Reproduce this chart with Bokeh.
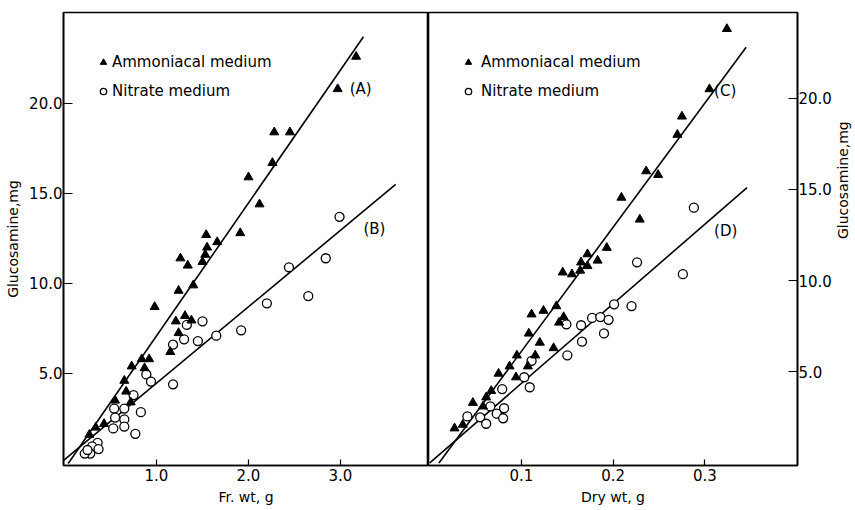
import math
from bokeh.plotting import figure
from bokeh.layouts import row
from bokeh.models import (Range1d, FixedTicker, NumeralTickFormatter, Legend,
                          LegendItem, Label)
from bokeh.embed import file_html
from bokeh.resources import INLINE

FONT = "DejaVu Sans"

# ---------------- Left panel: fresh weight ----------------
fr_amm_x = [3.17, 2.97, 2.28, 2.45, 2.26, 2.00, 2.12, 1.91, 1.54, 1.55, 1.66, 1.53,
            1.26, 1.34, 1.50, 1.40, 1.24, 0.98, 1.21, 1.31, 1.38, 1.24, 1.15, 0.84,
            0.92, 0.87, 0.73, 0.65, 0.67, 0.72, 0.55, 0.43, 0.34, 0.27]
fr_amm_y = [22.6, 20.8, 18.4, 18.4, 16.7, 15.9, 14.4, 12.8, 12.7, 12.0, 12.3, 11.6,
            11.4, 11.0, 11.2, 9.9, 9.6, 8.7, 7.9, 8.2, 7.95, 7.25, 6.2, 5.8,
            5.8, 5.3, 5.4, 4.6, 4.0, 3.4, 3.5, 2.2, 2.0, 1.6]

fr_nit_x = [2.99, 2.84, 2.44, 2.65, 2.20, 1.92, 1.65, 1.50, 1.33, 1.30, 1.45, 1.18,
            0.89, 0.94, 1.18, 0.75, 0.54, 0.65, 0.83, 0.55, 0.65, 0.53, 0.65, 0.77,
            0.36, 0.30, 0.37, 0.28, 0.22, 0.25]
fr_nit_y = [13.7, 11.4, 10.9, 9.3, 8.9, 7.4, 7.1, 7.9, 7.7, 6.9, 6.8, 6.6,
            4.95, 4.55, 4.4, 3.8, 3.05, 3.05, 2.85, 2.55, 2.45, 1.95, 2.05, 1.65,
            1.15, 0.95, 0.8, 0.55, 0.55, 0.75]

line_a_x = [0.04, 3.25]
line_a_y = [0.0, 23.7]
line_b_x = [-0.01, 3.60]
line_b_y = [0.17, 15.5]

# ---------------- Right panel: dry weight ----------------
dry_amm_x = [0.324, 0.305, 0.275, 0.270, 0.236, 0.249, 0.209, 0.229, 0.193, 0.172,
             0.165, 0.172, 0.183, 0.145, 0.155, 0.164, 0.138, 0.124, 0.111, 0.146,
             0.141, 0.108, 0.120, 0.135, 0.095, 0.115, 0.087, 0.107, 0.075, 0.094,
             0.067, 0.0615, 0.047, 0.058, 0.036, 0.027]
dry_amm_y = [23.8, 20.5, 19.0, 18.0, 16.0, 15.8, 14.55, 13.35, 11.8, 11.45,
             11.0, 10.8, 11.1, 10.45, 10.35, 10.55, 8.6, 8.35, 8.15, 8.0,
             7.7, 7.1, 6.6, 6.3, 5.9, 5.9, 5.3, 5.3, 4.9, 4.7,
             3.95, 3.6, 3.3, 3.1, 2.1, 1.9]

dry_nit_x = [0.288, 0.226, 0.276, 0.201, 0.220, 0.177, 0.186, 0.195, 0.190, 0.149,
             0.165, 0.166, 0.150, 0.111, 0.103, 0.109, 0.079, 0.066, 0.081, 0.073,
             0.080, 0.055, 0.0615, 0.041]
dry_nit_y = [14.0, 11.0, 10.35, 8.7, 8.6, 7.95, 8.0, 7.85, 7.1, 7.6,
             7.55, 6.65, 5.9, 5.6, 4.7, 4.15, 4.05, 3.1, 3.0, 2.7,
             2.45, 2.5, 2.15, 2.55]

line_c_x = [0.010, 0.345]
line_c_y = [0.0, 22.8]
line_d_x = [0.0, 0.346]
line_d_y = [0.0, 15.1]

y_ticks = [5, 10, 15, 20]
fr_ticks = [1, 2, 3]
dry_ticks = [0.1, 0.2, 0.3]

legend_labels = ["Ammoniacal medium", "Nitrate medium"]


def style(p, xticks):
    p.outline_line_color = "black"
    p.outline_line_width = 1.6
    p.xgrid.visible = False
    p.ygrid.visible = False
    p.background_fill_color = "white"
    p.border_fill_color = "white"
    for ax in list(p.xaxis) + list(p.yaxis):
        ax.formatter = NumeralTickFormatter(format="0.0")
        ax.major_tick_out = 0
        ax.minor_tick_line_color = None
        ax.axis_line_width = 1.6
        ax.axis_line_color = "black"
        ax.major_tick_line_color = "black"
        ax.major_tick_line_width = 1.2
        ax.major_label_text_font = FONT
        ax.major_label_text_font_size = "15px"
        ax.major_label_text_color = "black"
        ax.axis_label_text_font = FONT
        ax.axis_label_text_font_size = "14px"
        ax.axis_label_text_font_style = "normal"
        ax.axis_label_text_color = "black"
    for ax in p.xaxis:
        ax.ticker = FixedTicker(ticks=xticks)
        ax.major_tick_in = 6
        ax.major_label_standoff = 3
        ax.axis_label_standoff = 5
    for ax in p.yaxis:
        ax.ticker = FixedTicker(ticks=y_ticks)
        ax.major_tick_in = 9
        ax.major_label_standoff = 1
        ax.axis_label_standoff = 5


def add_legend(p, tri, circ, x, standoff):
    leg = Legend(items=[LegendItem(label=legend_labels[0], renderers=[tri]),
                        LegendItem(label=legend_labels[1], renderers=[circ])],
                 location=(x, 365), border_line_color=None,
                 background_fill_alpha=0, label_text_font=FONT,
                 label_text_font_size="15px", label_text_color="black",
                 glyph_width=16, glyph_height=16,
                 label_height=16, label_standoff=standoff, spacing=11,
                 padding=0, margin=0)
    p.add_layout(leg)


def add_label(p, x, y, t):
    p.add_layout(Label(x=x, y=y, text=t, text_font=FONT, text_font_size="15px",
                       text_color="black",
                       text_baseline="middle", text_align="left"))


# left figure
p1 = figure(frame_width=365, frame_height=453, x_range=Range1d(-0.011, 3.957),
            y_range=Range1d(-0.11, 25.05), toolbar_location=None,
            output_backend="svg", min_border_left=63, min_border_right=0,
            min_border_top=12, min_border_bottom=0,
            x_axis_label="Fr. wt, g", y_axis_label="Glucosamine,mg")
style(p1, fr_ticks)
p1.line(line_a_x, line_a_y, line_color="black", line_width=1.6)
p1.line(line_b_x, line_b_y, line_color="black", line_width=1.6)
c1 = p1.scatter(fr_nit_x, fr_nit_y, marker="circle", size=9, fill_color="white",
                line_color="black", line_width=1.3)
t1 = p1.scatter(fr_amm_x, fr_amm_y, marker="triangle", size=9, fill_color="black",
                line_color="black")
add_legend(p1, t1, c1, 32, 1)
add_label(p1, 3.10, 20.8, "(A)")
add_label(p1, 3.25, 13.0, "(B)")

# right figure
p2 = figure(frame_width=369, frame_height=453, x_range=Range1d(-0.0014, 0.401),
            y_range=Range1d(-0.14, 24.7), toolbar_location=None,
            output_backend="svg", y_axis_location="right",
            min_border_left=0, min_border_right=56,
            min_border_top=12, min_border_bottom=0,
            x_axis_label="Dry wt, g", y_axis_label="Glucosamine,mg")
style(p2, dry_ticks)
p2.yaxis.axis_label_orientation = math.pi / 2
p2.yaxis.axis_label_standoff = 8
p2.line(line_c_x, line_c_y, line_color="black", line_width=1.6)
p2.line(line_d_x, line_d_y, line_color="black", line_width=1.6)
c2 = p2.scatter(dry_nit_x, dry_nit_y, marker="circle", size=9, fill_color="white",
                line_color="black", line_width=1.3)
t2 = p2.scatter(dry_amm_x, dry_amm_y, marker="triangle", size=9, fill_color="black",
                line_color="black")
add_legend(p2, t2, c2, 32, 5)
add_label(p2, 0.310, 20.4, "(C)")
add_label(p2, 0.310, 12.7, "(D)")

layout = row(p1, p2)
open("out.html", "w").write(file_html(layout, INLINE))
